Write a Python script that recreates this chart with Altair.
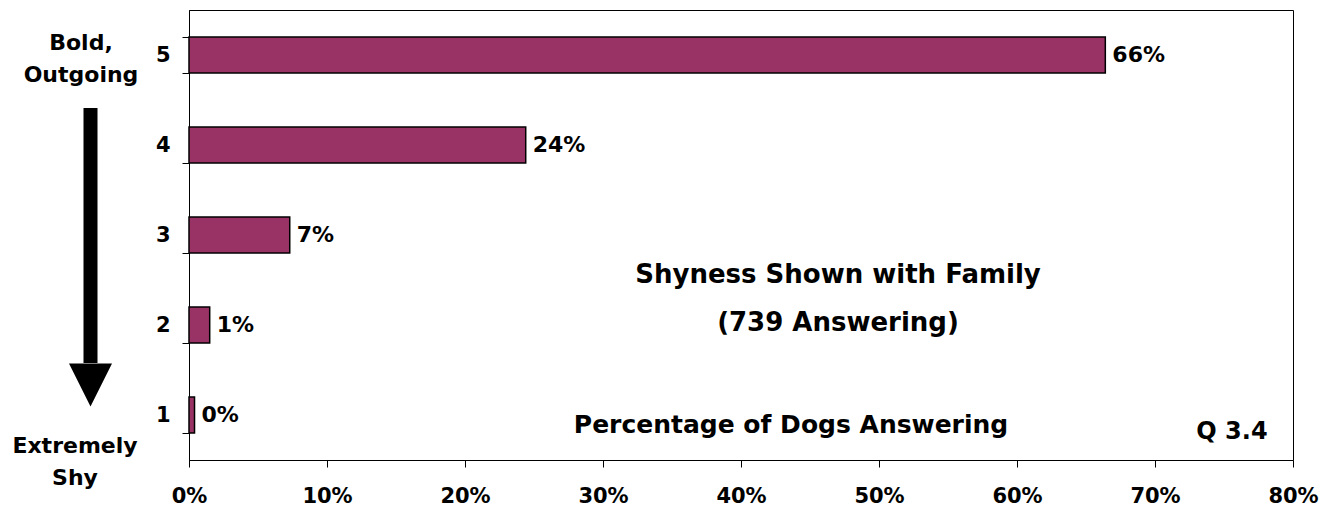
import altair as alt
import pandas as pd

FONT = "DejaVu Sans"

categories = ["5", "4", "3", "2", "1"]
values = [66.4, 24.4, 7.3, 1.5, 0.4]
labels = ["66%", "24%", "7%", "1%", "0%"]
x_ticks = [0, 10, 20, 30, 40, 50, 60, 70, 80]

df = pd.DataFrame({"score": categories, "pct": values, "label": labels})
anno = pd.DataFrame({"k": [0]})

x_enc = alt.X(
    "pct:Q",
    scale=alt.Scale(domain=[0, 80], nice=False, zero=True),
    axis=alt.Axis(
        values=x_ticks, labelExpr="datum.value + '%'", title=None, grid=False,
        tickSize=7, labelPadding=18, labelFont=FONT, labelFontSize=21,
        labelFontWeight="bold", labelColor="black", domainColor="black",
        tickColor="black", labelFlush=False,
    ),
)
y_enc = alt.Y(
    "score:N",
    sort=categories,
    scale=alt.Scale(paddingInner=0.6, paddingOuter=0.3),
    axis=alt.Axis(
        title=None, tickBand="extent", tickSize=7, labelPadding=12, labelAngle=0,
        labelFont=FONT, labelFontSize=21, labelFontWeight="bold",
        labelColor="black", domainColor="black", tickColor="black", grid=False,
    ),
)

bars = alt.Chart(df).mark_bar(color="#993366", stroke="black", strokeWidth=1.5).encode(
    x=x_enc, y=y_enc
)
bar_text = alt.Chart(df).mark_text(
    align="left", baseline="middle", dx=7, font=FONT, fontSize=22,
    fontWeight="bold", color="black",
).encode(x="pct:Q", y=alt.Y("score:N", sort=categories), text="label:N")

title_t = alt.Chart(anno).mark_text(
    text=["Shyness Shown with Family", "(739 Answering)"], align="center",
    baseline="alphabetic", lineHeight=48, font=FONT, fontSize=26,
    fontWeight="bold", color="black",
).encode(x=alt.value(649), y=alt.value(273))

pct_t = alt.Chart(anno).mark_text(
    text="Percentage of Dogs Answering", align="center", baseline="alphabetic",
    font=FONT, fontSize=25, fontWeight="bold", color="black",
).encode(x=alt.value(602), y=alt.value(423))

q_t = alt.Chart(anno).mark_text(
    text="Q 3.4", align="center", baseline="alphabetic",
    font=FONT, fontSize=24, fontWeight="bold", color="black",
).encode(x=alt.value(1043), y=alt.value(429))

bold_t = alt.Chart(anno).mark_text(
    text=["Bold,", "Outgoing"], align="center", baseline="alphabetic",
    lineHeight=32, font=FONT, fontSize=22, fontWeight="bold", color="black",
).encode(x=alt.value(-108), y=alt.value(40))

shy_t = alt.Chart(anno).mark_text(
    text=["Extremely", "Shy"], align="center", baseline="alphabetic",
    lineHeight=32, font=FONT, fontSize=22, fontWeight="bold", color="black",
).encode(x=alt.value(-114), y=alt.value(443))

shaft = alt.Chart(anno).mark_rule(color="black", strokeWidth=14, strokeCap="butt").encode(
    x=alt.value(-98.5), y=alt.value(98), y2=alt.value(353)
)
head = alt.Chart(anno).mark_point(
    shape="M -1 -1 L 1 -1 L 0 1 Z", size=1849, filled=True, color="black",
    opacity=1, strokeWidth=0,
).encode(x=alt.value(-98.5), y=alt.value(375))

chart = alt.layer(
    bars, bar_text, title_t, pct_t, q_t, bold_t, shy_t, shaft, head
).properties(
    width=1104, height=450,
    autosize=alt.AutoSizeParams(type="none"),
    padding={"left": 181, "top": 2, "right": 26, "bottom": 50},
    background="white",
).configure_view(stroke="black", strokeWidth=1)

chart.save("out.html", embed_options={"renderer": "svg", "actions": False})
